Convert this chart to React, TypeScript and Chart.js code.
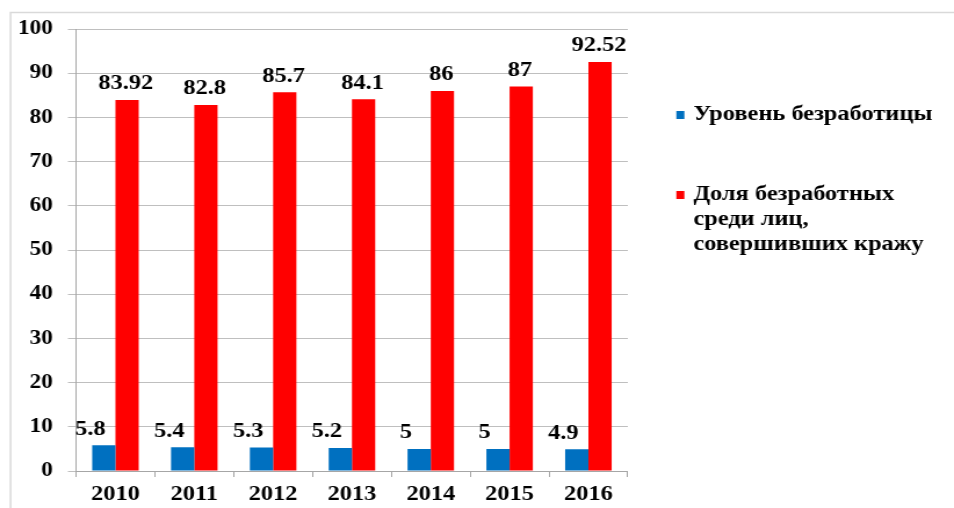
import React, { useEffect, useRef } from "react";
import { Chart, registerables } from "chart.js";

Chart.register(...registerables);

const years = ["2010", "2011", "2012", "2013", "2014", "2015", "2016"];
const unemploymentRate = [5.8, 5.4, 5.3, 5.2, 5, 5, 4.9];
const theftShare = [83.92, 82.8, 85.7, 84.1, 86, 87, 92.52];
const seriesNames = [
  "Уровень безработицы",
  "Доля безработных среди лиц, совершивших кражу",
];
const legendLines = [
  ["Уровень безработицы"],
  ["Доля безработных", "среди лиц,", "совершивших кражу"],
];
const yMin = 0;
const yMax = 100;
const yStep = 10;

const BLUE = "#0070C0";
const RED = "#FF0000";
const FONT = "'Liberation Serif', 'Times New Roman', serif";

// the reference picture is stretched horizontally; draw narrower and stretch with CSS
const W = 954;
const H = 508;
const S = 1.16;
const CW = Math.round(W / S);

const framePlugin = {
  id: "frame",
  beforeDraw(chart: any) {
    const ctx = chart.ctx;
    ctx.save();
    ctx.fillStyle = "#ffffff";
    ctx.fillRect(0, 0, chart.width, chart.height);
    ctx.strokeStyle = "#d9d9d9";
    ctx.lineWidth = 1.5;
    ctx.beginPath();
    ctx.moveTo(10.5 / S, chart.height);
    ctx.lineTo(10.5 / S, 12.5);
    ctx.lineTo(chart.width, 12.5);
    ctx.stroke();
    ctx.restore();
  },
};

const labelPlugin = {
  id: "valueLabels",
  afterDatasetsDraw(chart: any) {
    const ctx = chart.ctx;
    ctx.save();
    ctx.font = `bold 21px ${FONT}`;
    ctx.fillStyle = "#000000";
    ctx.textAlign = "center";
    ctx.textBaseline = "middle";
    chart.data.datasets.forEach((ds: any, di: number) => {
      const meta = chart.getDatasetMeta(di);
      meta.data.forEach((bar: any, i: number) => {
        const v = ds.data[i];
        const dx = di === 0 ? -11.5 : -1;
        ctx.fillText(String(v), bar.x + dx, bar.y - 16);
      });
    });
    ctx.restore();
  },
};

const legendPlugin = {
  id: "customLegend",
  afterDraw(chart: any) {
    const ctx = chart.ctx;
    ctx.save();
    ctx.font = `bold 21px ${FONT}`;
    ctx.textBaseline = "middle";
    ctx.textAlign = "left";
    const starts = [115, 195];
    chart.data.datasets.forEach((ds: any, di: number) => {
      const y0 = starts[di];
      ctx.fillStyle = ds.backgroundColor;
      ctx.fillRect(676 / S, y0 - 4, 8 / S, 8);
      ctx.fillStyle = "#000000";
      legendLines[di].forEach((line, li) => {
        ctx.fillText(line, 693 / S, y0 + li * 25);
      });
    });
    ctx.restore();
  },
};

export default function App() {
  const ref = useRef<HTMLCanvasElement | null>(null);
  useEffect(() => {
    let chart: Chart | null = null;
    let cancelled = false;
    const build = () => {
      if (cancelled || !ref.current) return;
      chart = new Chart(ref.current, {
        type: "bar",
        data: {
          labels: years,
          datasets: [
            {
              label: seriesNames[0],
              data: unemploymentRate,
              backgroundColor: BLUE,
              barPercentage: 1,
              categoryPercentage: 0.59,
            },
            {
              label: seriesNames[1],
              data: theftShare,
              backgroundColor: RED,
              barPercentage: 1,
              categoryPercentage: 0.59,
            },
          ],
        },
        options: {
          responsive: false,
          animation: false,
          devicePixelRatio: 1,
          layout: {
            padding: { left: 10 / S, right: 326 / S, top: 29, bottom: 0 },
          },
          plugins: {
            legend: { display: false },
            tooltip: { enabled: false },
          },
          scales: {
            x: {
              grid: {
                offset: true,
                drawOnChartArea: false,
                tickLength: 6,
                color: "#a6a6a6",
              },
              border: { color: "#a6a6a6" },
              ticks: {
                color: "#000000",
                font: { family: FONT, size: 21, weight: "bold" },
                padding: 5,
                maxRotation: 0,
              },
              afterFit(scale: any) {
                scale.height = 37;
              },
            },
            y: {
              min: yMin,
              max: yMax,
              grid: { color: "#bfbfbf", tickLength: 7 },
              border: { color: "#a6a6a6" },
              ticks: {
                stepSize: yStep,
                color: "#000000",
                font: { family: FONT, size: 20, weight: "bold" },
                padding: 13,
              },
              afterFit(scale: any) {
                scale.width = 66 / S;
              },
            },
          },
        },
        plugins: [framePlugin, labelPlugin, legendPlugin],
      });
    };
    const fonts: any = (document as any).fonts;
    if (fonts && fonts.load) {
      fonts
        .load("bold 21px 'Liberation Serif'", "Уровень безработицы Доля 0123456789.")
        .catch(() => undefined)
        .then(build);
    } else {
      build();
    }
    return () => {
      cancelled = true;
      if (chart) chart.destroy();
    };
  }, []);
  return (
    <div style={{ position: "fixed", left: 0, top: 0, width: W, height: H }}>
      <canvas
        ref={ref}
        width={CW}
        height={H}
        style={{ display: "block", width: W, height: H }}
      />
    </div>
  );
}
